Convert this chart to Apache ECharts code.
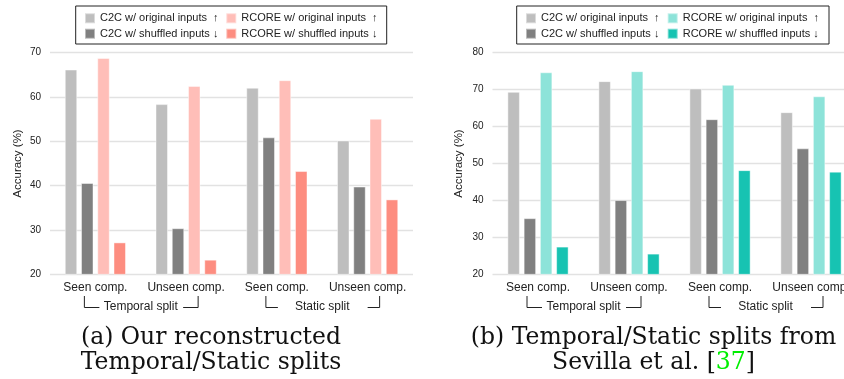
<!DOCTYPE html>
<html><head><meta charset="utf-8">
<script src="https://cdn.jsdelivr.net/npm/echarts@6/dist/echarts.min.js"></script>
<style>
html,body{margin:0;padding:0;overflow:hidden;background:#fff;width:844px;height:379px}
#a{position:absolute;left:0;top:0;width:422px;height:379px}
#b{position:absolute;left:420px;top:0;width:450px;height:379px}
</style></head><body><div id="a"></div><div id="b"></div>
<script>
// ---- data ----
const categories = ['Seen comp.', 'Unseen comp.', 'Seen comp.', 'Unseen comp.'];
const groupLabels = ['Temporal split', 'Static split'];
const seriesNames = ['C2C w/ original inputs  \u2191', 'C2C w/ shuffled inputs \u2193', 'RCORE w/ original inputs  \u2191', 'RCORE w/ shuffled inputs \u2193'];

const leftC2COrig   = [66.2, 58.4, 62.1, 50.2];
const leftC2CShuf   = [40.6, 30.4, 50.9, 39.8];
const leftRcoreOrig = [68.8, 62.5, 63.8, 55.1];
const leftRcoreShuf = [27.2, 23.3, 43.3, 36.9];

const rightC2COrig   = [69.4, 72.3, 70.3, 63.9];
const rightC2CShuf   = [35.2, 40.1, 62.0, 54.1];
const rightRcoreOrig = [74.7, 75.0, 71.3, 68.2];
const rightRcoreShuf = [27.5, 25.6, 48.2, 47.8];

const leftTicks = {min: 20, max: 70, interval: 10};
const rightTicks = {min: 20, max: 80, interval: 10};

const captionA = ['(a) Our reconstructed', 'Temporal/Static splits'];
const captionB = ['(b) Temporal/Static splits from', 'Sevilla et al. [', '37', ']'];

// ---- styles ----
const FONT = 'Liberation Sans, Arial, sans-serif';
const SERIF = 'DejaVu Serif, serif';
const leftColors = ['#bebebe', '#808080', '#ffbeb8', '#fd8d80'];
const rightColors = ['#bebebe', '#808080', '#8de3d9', '#17c3b2'];

function build(el, cfg) {
  const chart = echarts.init(el, null, {renderer: 'canvas'});
  const values = cfg.values;
  const series = values.map((v, i) => ({
    type: 'bar', name: seriesNames[i], data: v,
    barWidth: 12.5, barGap: '30%',
    itemStyle: {color: cfg.colors[i], borderColor: 'rgba(255,255,255,0.45)', borderWidth: 1},
    emphasis: {disabled: true}, animation: false
  }));
  const legendCommon = {
    orient: 'vertical', icon: 'rect', itemWidth: 10, itemHeight: 10, itemGap: 3.4, padding: 0,
    textStyle: {fontFamily: FONT, fontSize: 11, color: '#222'}, selectedMode: false
  };
  chart.setOption({
    animation: false,
    grid: {left: cfg.gridLeft, width: cfg.gridWidth, top: 52.7, height: 221.6, containLabel: false},
    legend: [
      Object.assign({}, legendCommon, {left: cfg.leg1, top: 12.3, data: [seriesNames[0], seriesNames[1]]}),
      Object.assign({}, legendCommon, {left: cfg.leg2, top: 12.3, data: [seriesNames[2], seriesNames[3]]})
    ],
    xAxis: {
      type: 'category', data: categories,
      axisLine: {show: false}, axisTick: {show: false},
      axisLabel: {fontFamily: FONT, fontSize: 12, color: '#222', margin: 7, interval: 0}
    },
    yAxis: {
      type: 'value', min: cfg.ticks.min, max: cfg.ticks.max, interval: cfg.ticks.interval,
      name: 'Accuracy (%)', nameLocation: 'middle', nameGap: cfg.nameGap, nameMoveOverlap: false,
      nameTextStyle: {fontFamily: FONT, fontSize: 11.5, color: '#222'},
      axisLine: {show: false}, axisTick: {show: false},
      axisLabel: {fontFamily: FONT, fontSize: 10, color: '#222', margin: 9},
      splitLine: {lineStyle: {color: '#e2e2e2', width: 1.3}}
    },
    series: series
  });
  // annotations positioned from the axis scale
  const c = categories.map((_, i) => chart.convertToPixel({xAxisIndex: 0}, i));
  const g = [];
  g.push({type: 'rect', shape: {x: cfg.box[0], y: 6, width: cfg.box[1], height: 38},
          style: {fill: 'none', stroke: '#222', lineWidth: 1}});
  const yTop = 296, yBot = 307.5;
  const brackets = [[0, 1, 15], [2, 3, 12]];
  brackets.forEach((b, k) => {
    const xl = c[b[0]] - 11, xr = c[b[1]] + 12;
    const len = b[2];
    g.push({type: 'polyline', shape: {points: [[xl, yTop], [xl, yBot], [xl + len, yBot]]}, style: {stroke: '#222', lineWidth: 1, fill: null}});
    g.push({type: 'polyline', shape: {points: [[xr - len, yBot], [xr, yBot], [xr, yTop]]}, style: {stroke: '#222', lineWidth: 1, fill: null}});
    g.push({type: 'text', x: (c[b[0]] + c[b[1]]) / 2, y: 307,
      style: {text: groupLabels[k], font: '12px ' + FONT, fill: '#222', align: 'center', verticalAlign: 'middle'}});
  });
  cfg.caption(g);
  chart.setOption({graphic: g});
  return chart;
}

const CAP = '23.5px ' + SERIF;

build(document.getElementById('a'), {
  values: [leftC2COrig, leftC2CShuf, leftRcoreOrig, leftRcoreShuf],
  colors: leftColors, ticks: leftTicks,
  gridLeft: 50, gridWidth: 363, nameGap: 26,
  leg1: 84, leg2: 225.3, box: [75.7, 311],
  caption: (g) => {
    g.push({type: 'text', x: 211, y: 338, style: {text: captionA[0], font: CAP, fill: '#111', align: 'center', verticalAlign: 'middle'}});
    g.push({type: 'text', x: 211, y: 362.5, style: {text: captionA[1], font: CAP, fill: '#111', align: 'center', verticalAlign: 'middle'}});
  }
});

build(document.getElementById('b'), {
  values: [rightC2COrig, rightC2CShuf, rightRcoreOrig, rightRcoreShuf],
  colors: rightColors, ticks: rightTicks,
  gridLeft: 72.5, gridWidth: 364, nameGap: 27.5,
  leg1: 105, leg2: 246.7, box: [96.7, 312.3],
  caption: (g) => {
    g.push({type: 'text', x: 233.5, y: 338, style: {text: captionB[0], font: CAP, fill: '#111', align: 'center', verticalAlign: 'middle'}});
    g.push({type: 'text', x: 233.5, y: 362.5, style: {
      text: '{n|' + captionB[1] + '}{g|' + captionB[2] + '}{n|' + captionB[3] + '}',
      align: 'center', verticalAlign: 'middle',
      rich: {n: {font: CAP, fill: '#111'}, g: {font: CAP, fill: '#00ee00'}}
    }});
  }
});
</script></body></html>
